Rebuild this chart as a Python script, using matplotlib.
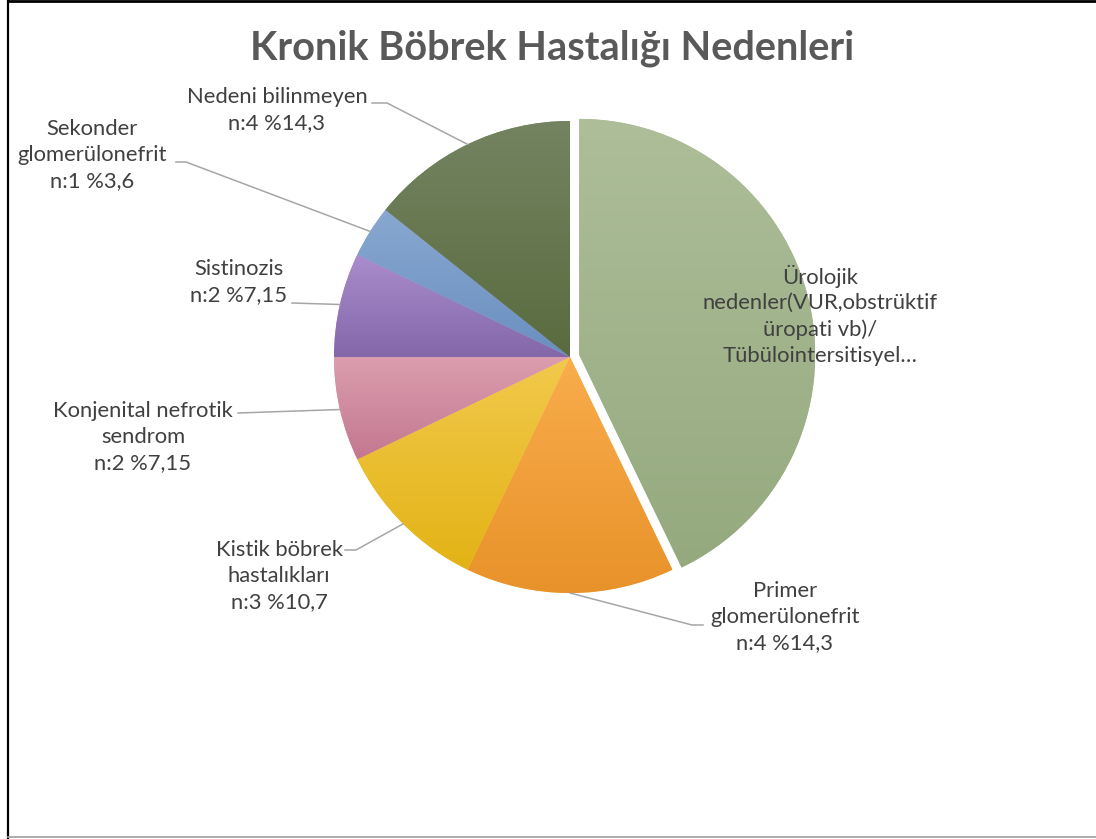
import numpy as np
import matplotlib
matplotlib.use("Agg")
import matplotlib.pyplot as plt
from matplotlib.colors import to_rgb

# ---- data ----
labels = ["Ürolojik\nnedenler(VUR,obstrüktif\nüropati vb)/\nTübülointersitisyel…",
          "Primer\nglomerülonefrit\nn:4 %14,3",
          "Kistik böbrek\nhastalıkları\nn:3 %10,7",
          "Konjenital nefrotik\nsendrom\nn:2 %7,15",
          "Sistinozis\nn:2 %7,15",
          "Sekonder\nglomerülonefrit\nn:1 %3,6",
          "Nedeni bilinmeyen\nn:4 %14,3"]
counts = [12, 4, 3, 2, 2, 1, 4]
explode_frac = [0.04, 0, 0, 0, 0, 0, 0]
# gradient colours (top, bottom) per slice
col_top = ["#ADBE99", "#F9AD4C", "#F2C94C", "#DB9EAF", "#A98DCC", "#88A8D0", "#748462"]
col_bot = ["#95A97E", "#E8922A", "#E3B315", "#C47890", "#8367A9", "#6A8FC0", "#596B3E"]

# label placement in pixels (center of text block) and leader start points
lab_xy = [(820, 315), (785, 617), (279, 576), (143, 437), (239, 282), (92, 155), (277, 110)]
leader = [None,
          [(703, 625), (692, 625)],
          [(345, 550), (356, 550)],
          [(238, 413)],
          [(292, 303)],
          [(176, 162), (186, 162)],
          [(372, 103), (387, 103)]]

W, H = 1096, 839
fig = plt.figure(figsize=(W / 100, H / 100), dpi=100)
ax = fig.add_axes([0, 0, 1, 1])
ax.axis("off")

def py(y):
    return H - y

cx, cy, R = 570, py(357), 236
# pie explode is in data units, so scale by radius
wedges, _ = ax.pie(counts, explode=[e * R for e in explode_frac], startangle=90,
                   counterclock=False, radius=R, center=(cx, cy), colors=col_top,
                   wedgeprops=dict(linewidth=0))
ax.set_aspect("equal")

# vertical gradient fill for each slice
for w, ct, cb in zip(wedges, col_top, col_bot):
    bb = w.get_path().get_extents(w.get_transform() - ax.transData)
    t = np.linspace(0, 1, 256)[:, None]
    img = (1 - t) * np.array(to_rgb(ct)) + t * np.array(to_rgb(cb))
    img = img[:, None, :].repeat(2, axis=1)
    im = ax.imshow(img, extent=(bb.x0, bb.x1, bb.y0, bb.y1), origin="upper",
                   aspect="auto", zorder=w.get_zorder() + 0.1, interpolation="bilinear")
    im.set_clip_path(w)
ax.set_xlim(0, W)
ax.set_ylim(0, H)

txt_col = "#404040"
line_col = "#A6A6A6"
for i, w in enumerate(wedges):
    x, y = lab_xy[i]
    ax.text(x, py(y), labels[i], ha="center", va="center", fontsize=15.8,
            family="Lato", color=txt_col, linespacing=1.36, zorder=10)
    if leader[i] is None:
        continue
    mid = np.radians((w.theta1 + w.theta2) / 2)
    ex = w.center[0] + w.r * np.cos(mid)
    ey = w.center[1] + w.r * np.sin(mid)
    xs = [p[0] for p in leader[i]] + [ex]
    ys = [py(p[1]) for p in leader[i]] + [ey]
    ax.plot(xs, ys, color=line_col, lw=1.1, zorder=9)

ax.text(552, py(48), "Kronik Böbrek Hastalığı Nedenleri", ha="center", va="center",
        fontsize=28.6, fontweight="bold", family="Lato", color="#595959")

# frame
ax.plot([8, 8], [0, H], color="black", lw=1.6)
ax.plot([8, W], [py(1), py(1)], color="black", lw=2)
ax.plot([8, W], [py(837), py(837)], color="#A0A0A0", lw=1.2)

fig.savefig("out.png", dpi=100)
